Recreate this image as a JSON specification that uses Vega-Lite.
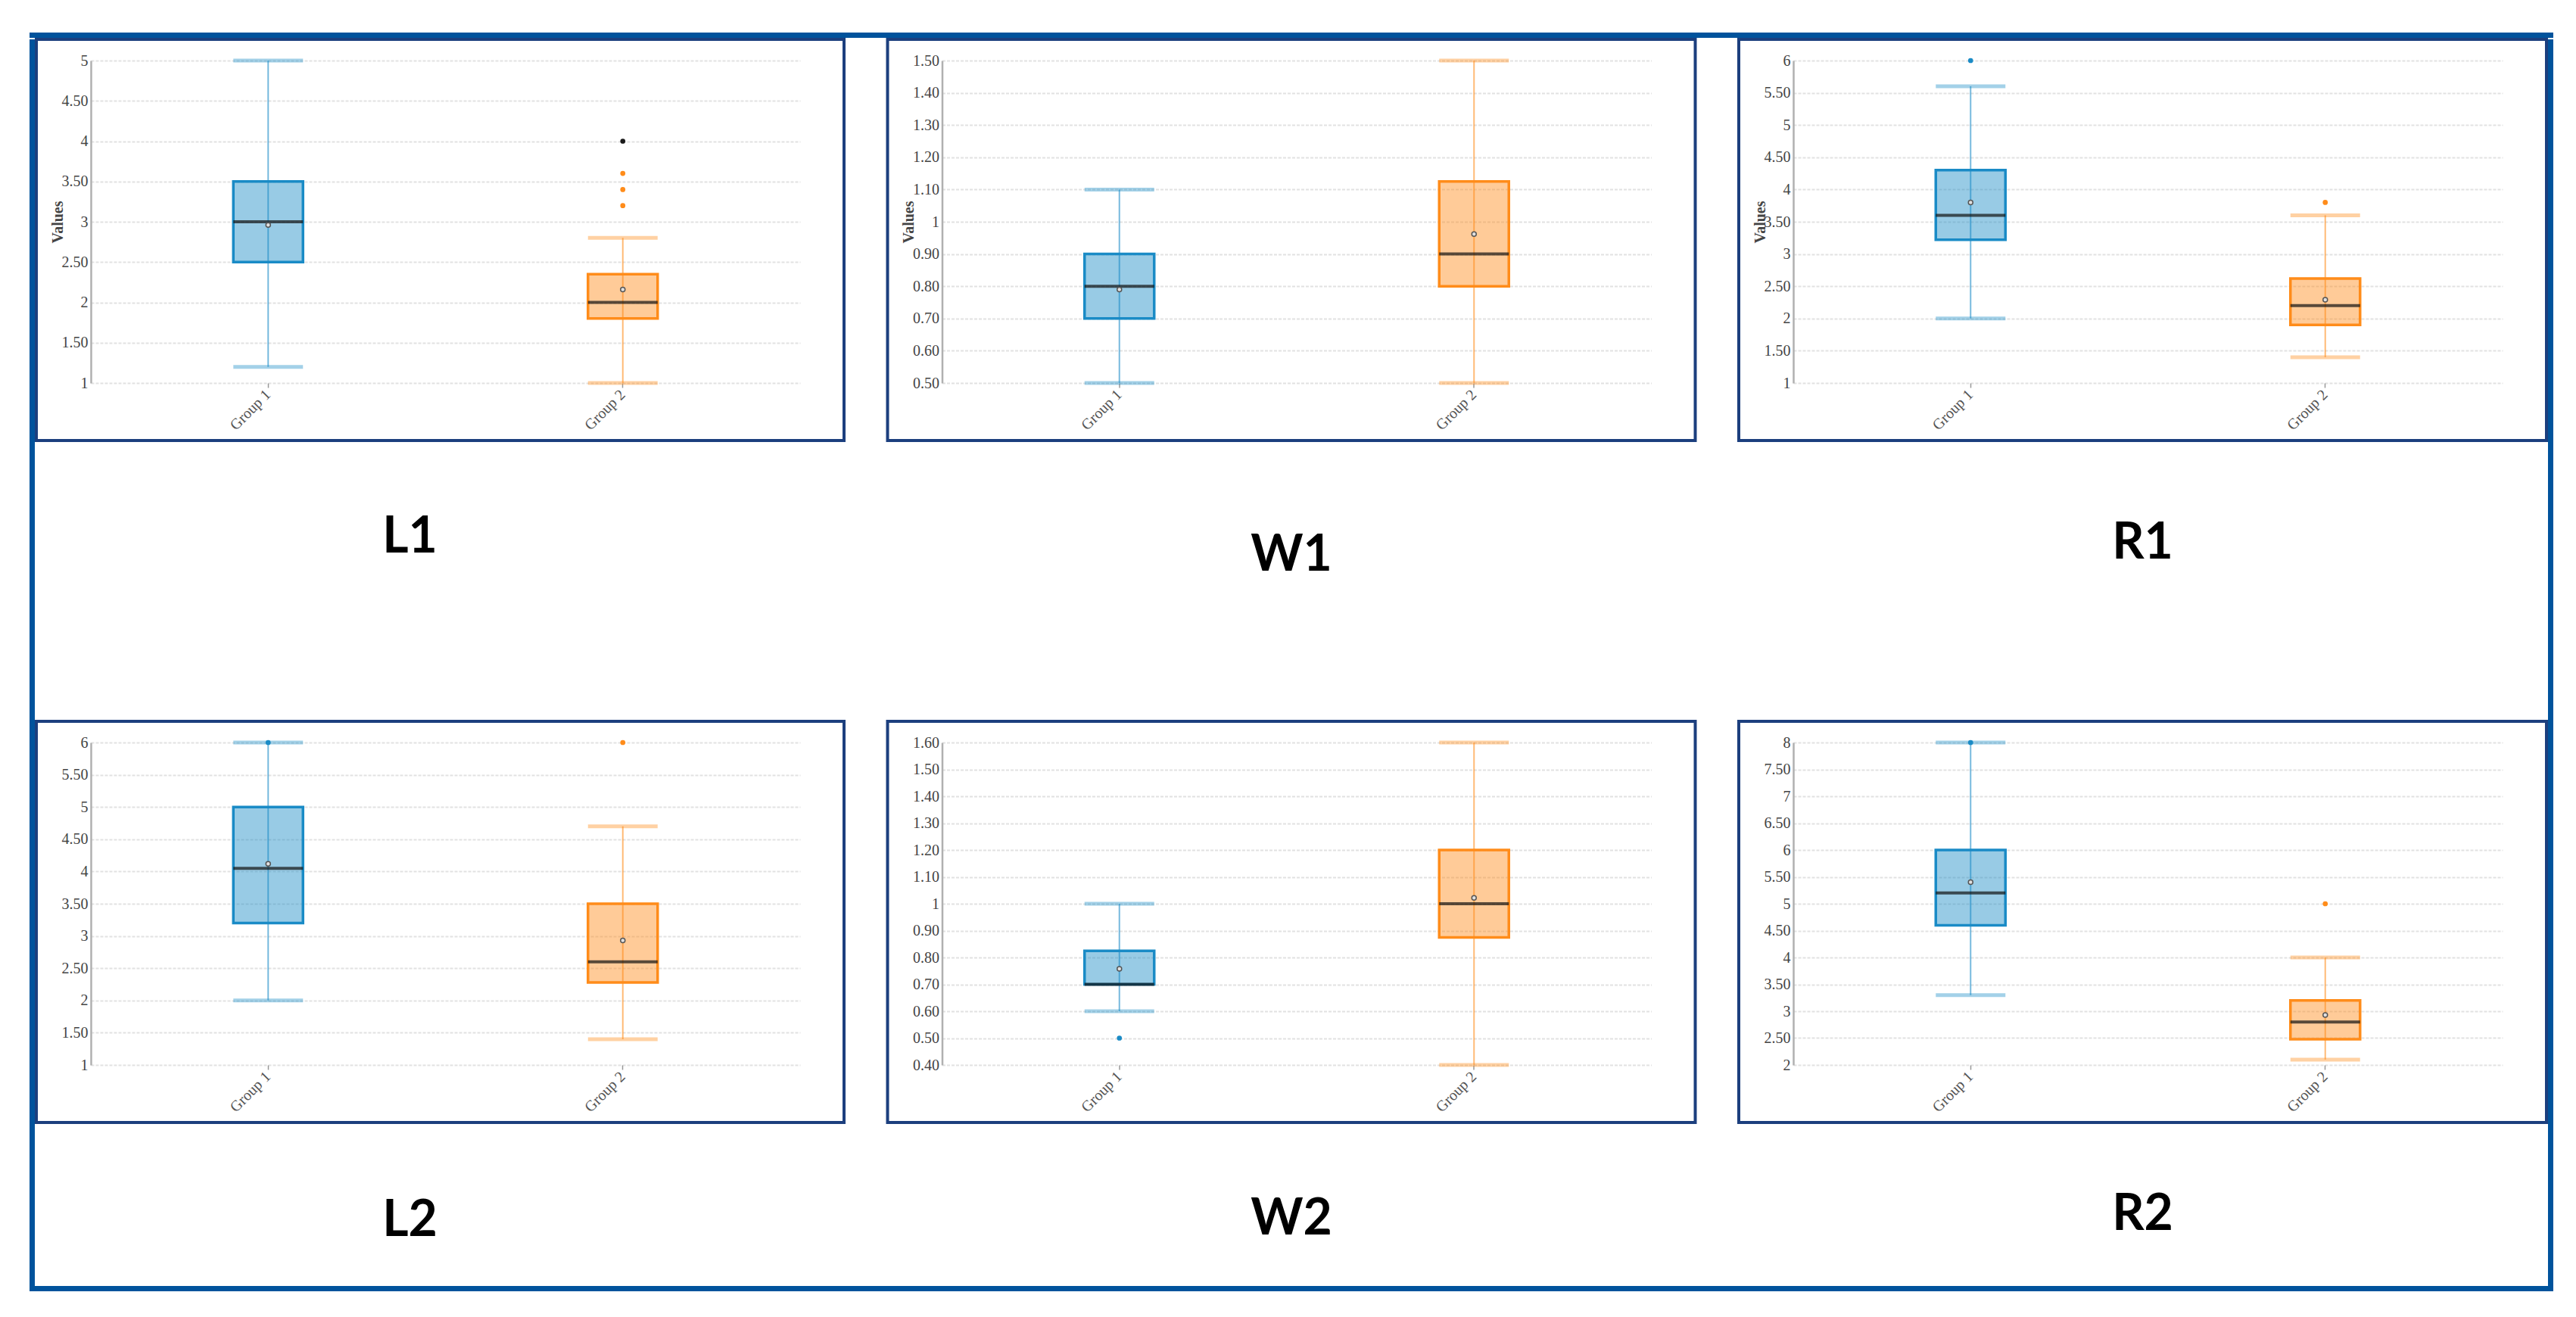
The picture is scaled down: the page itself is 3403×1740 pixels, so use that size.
{
  "$schema": "https://vega.github.io/schema/vega-lite/v6.json",
  "padding": {"left": 39, "top": 43, "right": 30, "bottom": 36},
  "background": "white",
  "datasets": {
    "stats": [
      {"panel": "L1", "group": "Group 1", "lower": 1.2, "q1": 2.5, "median": 3.0, "q3": 3.5, "upper": 5.0, "mean": 2.96},
      {"panel": "L1", "group": "Group 2", "lower": 1.0, "q1": 1.8, "median": 2.0, "q3": 2.35, "upper": 2.8, "mean": 2.16},
      {"panel": "W1", "group": "Group 1", "lower": 0.5, "q1": 0.7, "median": 0.8, "q3": 0.9, "upper": 1.1, "mean": 0.79},
      {"panel": "W1", "group": "Group 2", "lower": 0.5, "q1": 0.8, "median": 0.9, "q3": 1.125, "upper": 1.5, "mean": 0.962},
      {"panel": "R1", "group": "Group 1", "lower": 2.0, "q1": 3.22, "median": 3.6, "q3": 4.3, "upper": 5.6, "mean": 3.8},
      {"panel": "R1", "group": "Group 2", "lower": 1.4, "q1": 1.9, "median": 2.2, "q3": 2.62, "upper": 3.6, "mean": 2.29},
      {"panel": "L2", "group": "Group 1", "lower": 2.0, "q1": 3.2, "median": 4.05, "q3": 5.0, "upper": 6.0, "mean": 4.12},
      {"panel": "L2", "group": "Group 2", "lower": 1.4, "q1": 2.28, "median": 2.6, "q3": 3.5, "upper": 4.7, "mean": 2.93},
      {"panel": "W2", "group": "Group 1", "lower": 0.6, "q1": 0.7, "median": 0.7, "q3": 0.825, "upper": 1.0, "mean": 0.758},
      {"panel": "W2", "group": "Group 2", "lower": 0.4, "q1": 0.875, "median": 1.0, "q3": 1.2, "upper": 1.6, "mean": 1.022},
      {"panel": "R2", "group": "Group 1", "lower": 3.3, "q1": 4.6, "median": 5.2, "q3": 6.0, "upper": 8.0, "mean": 5.4},
      {"panel": "R2", "group": "Group 2", "lower": 2.1, "q1": 2.48, "median": 2.8, "q3": 3.2, "upper": 4.0, "mean": 2.93}
    ],
    "outliers": [
      {"panel": "L1", "group": "Group 2", "value": 4.0, "kind": "far"},
      {"panel": "L1", "group": "Group 2", "value": 3.6, "kind": "near"},
      {"panel": "L1", "group": "Group 2", "value": 3.4, "kind": "near"},
      {"panel": "L1", "group": "Group 2", "value": 3.2, "kind": "near"},
      {"panel": "R1", "group": "Group 1", "value": 6.0, "kind": "near"},
      {"panel": "R1", "group": "Group 2", "value": 3.8, "kind": "near"},
      {"panel": "L2", "group": "Group 1", "value": 6.0, "kind": "near"},
      {"panel": "L2", "group": "Group 2", "value": 6.0, "kind": "near"},
      {"panel": "W2", "group": "Group 1", "value": 0.5, "kind": "near"},
      {"panel": "R2", "group": "Group 1", "value": 8.0, "kind": "near"},
      {"panel": "R2", "group": "Group 2", "value": 5.0, "kind": "near"}
    ]
  },
  "config": {
    "view": {"stroke": "#1c3f7e", "strokeWidth": 4},
    "title": {"font": "Lato", "fontSize": 66, "fontWeight": "bold", "color": "#000000", "orient": "bottom", "anchor": "middle"},
    "axisX": {"domain": false, "grid": false, "tickSize": 6, "tickColor": "#999999", "tickWidth": 1.5, "labelAlign": "right", "labelBaseline": "middle", "labelPadding": 6, "labelFont": "Liberation Serif", "labelFontSize": 20, "labelColor": "#555555"},
    "axisY": {"ticks": false, "domainColor": "#b0b0b0", "domainWidth": 2.5, "gridColor": "#e2e2e2", "gridDash": [4, 2], "gridWidth": 2, "labelFont": "Liberation Serif", "labelFontSize": 20, "labelColor": "#444444", "labelPadding": 4, "titleFont": "Liberation Serif", "titleFontSize": 20, "titleFontWeight": "bold", "titleColor": "#444444"}
  },
  "spacing": 0,
  "vconcat": [
    {"width": 3334, "height": 7, "view": {"fill": "#00539c", "stroke": null}, "data": {"values": []}, "mark": "point"},
    {
      "spacing": 0,
      "hconcat": [
        {"width": 7, "height": 1647, "view": {"fill": "#00539c", "stroke": null}, "data": {"values": []}, "mark": "point"},
        {
          "columns": 3,
          "spacing": {"row": 371, "column": 57.5},
          "bounds": "flush",
          "concat": [
            {
              "width": 1067, "height": 530,
              "title": {"text": "L1", "offset": 96, "dx": -40},
              "data": {"name": "stats"},
              "transform": [{"filter": "datum.panel === 'L1'"}],
              "encoding": {"x": {"field": "group", "type": "nominal", "scale": {"domain": ["Group 1", "Group 2"], "range": [72, 1009], "paddingInner": 0, "paddingOuter": 0}, "axis": {"offset": -76, "title": null, "labelAngle": -45}}},
              "layer": [
                {"mark": {"type": "rule", "strokeWidth": 2, "opacity": 0.6}, "encoding": {"y": {"field": "lower", "type": "quantitative", "title": "Values", "scale": {"domain": [1, 5], "range": [454, 28], "zero": false, "nice": false}, "axis": {"offset": -72, "tickCount": 9, "grid": true, "labelExpr": "datum.value % 1 === 0 ? format(datum.value, 'd') : format(datum.value, '.2f')", "title": "Values", "titleX": -44, "titleY": 241, "titleAngle": -90, "titleBaseline": "middle", "titleAlign": "center"}}, "y2": {"field": "upper"}, "color": {"field": "group", "type": "nominal", "scale": {"domain": ["Group 1", "Group 2"], "range": ["#1a8bc6", "#ff8c1a"]}, "legend": null}}},
                {"mark": {"type": "tick", "size": 92, "thickness": 5, "opacity": 0.4}, "encoding": {"y": {"field": "lower", "type": "quantitative", "title": "Values", "scale": {"domain": [1, 5], "range": [454, 28], "zero": false, "nice": false}}, "color": {"field": "group", "type": "nominal", "scale": {"domain": ["Group 1", "Group 2"], "range": ["#1a8bc6", "#ff8c1a"]}, "legend": null}}},
                {"mark": {"type": "tick", "size": 92, "thickness": 5, "opacity": 0.4}, "encoding": {"y": {"field": "upper", "type": "quantitative", "title": "Values", "scale": {"domain": [1, 5], "range": [454, 28], "zero": false, "nice": false}}, "color": {"field": "group", "type": "nominal", "scale": {"domain": ["Group 1", "Group 2"], "range": ["#1a8bc6", "#ff8c1a"]}, "legend": null}}},
                {"mark": {"type": "bar", "width": 92, "fillOpacity": 0.45, "strokeWidth": 3.5}, "encoding": {"y": {"field": "q1", "type": "quantitative", "title": "Values", "scale": {"domain": [1, 5], "range": [454, 28], "zero": false, "nice": false}}, "y2": {"field": "q3"}, "color": {"field": "group", "type": "nominal", "scale": {"domain": ["Group 1", "Group 2"], "range": ["#1a8bc6", "#ff8c1a"]}, "legend": null}, "stroke": {"field": "group", "type": "nominal", "scale": {"domain": ["Group 1", "Group 2"], "range": ["#1a8bc6", "#ff8c1a"]}, "legend": null}}},
                {"mark": {"type": "tick", "size": 92, "thickness": 4, "color": "#111111"}, "encoding": {"y": {"field": "median", "type": "quantitative", "title": "Values", "scale": {"domain": [1, 5], "range": [454, 28], "zero": false, "nice": false}}}},
                {"mark": {"type": "point", "shape": "circle", "size": 36, "filled": true, "fill": "#e0e0e0", "stroke": "#555555", "strokeWidth": 1.5, "opacity": 1}, "encoding": {"y": {"field": "mean", "type": "quantitative", "title": "Values", "scale": {"domain": [1, 5], "range": [454, 28], "zero": false, "nice": false}}}},
                {"data": {"name": "outliers"}, "transform": [{"filter": "datum.panel === 'L1'"}], "mark": {"type": "circle", "size": 45, "opacity": 1}, "encoding": {"y": {"field": "value", "type": "quantitative", "title": "Values", "scale": {"domain": [1, 5], "range": [454, 28], "zero": false, "nice": false}}, "color": {"field": "group", "type": "nominal", "scale": {"domain": ["Group 1", "Group 2"], "range": ["#1a8bc6", "#ff8c1a"]}, "legend": null, "condition": {"test": "datum.kind === 'far'", "value": "#1a1a1a"}}}}
              ]
            },
            {
              "width": 1067, "height": 530,
              "title": {"text": "W1", "offset": 120},
              "data": {"name": "stats"},
              "transform": [{"filter": "datum.panel === 'W1'"}],
              "encoding": {"x": {"field": "group", "type": "nominal", "scale": {"domain": ["Group 1", "Group 2"], "range": [72, 1009], "paddingInner": 0, "paddingOuter": 0}, "axis": {"offset": -76, "title": null, "labelAngle": -45}}},
              "layer": [
                {"mark": {"type": "rule", "strokeWidth": 2, "opacity": 0.6}, "encoding": {"y": {"field": "lower", "type": "quantitative", "title": "Values", "scale": {"domain": [0.5, 1.5], "range": [454, 28], "zero": false, "nice": false}, "axis": {"offset": -72, "tickCount": 9, "grid": true, "labelExpr": "datum.value % 1 === 0 ? format(datum.value, 'd') : format(datum.value, '.2f')", "title": "Values", "titleX": -44, "titleY": 241, "titleAngle": -90, "titleBaseline": "middle", "titleAlign": "center"}}, "y2": {"field": "upper"}, "color": {"field": "group", "type": "nominal", "scale": {"domain": ["Group 1", "Group 2"], "range": ["#1a8bc6", "#ff8c1a"]}, "legend": null}}},
                {"mark": {"type": "tick", "size": 92, "thickness": 5, "opacity": 0.4}, "encoding": {"y": {"field": "lower", "type": "quantitative", "title": "Values", "scale": {"domain": [0.5, 1.5], "range": [454, 28], "zero": false, "nice": false}}, "color": {"field": "group", "type": "nominal", "scale": {"domain": ["Group 1", "Group 2"], "range": ["#1a8bc6", "#ff8c1a"]}, "legend": null}}},
                {"mark": {"type": "tick", "size": 92, "thickness": 5, "opacity": 0.4}, "encoding": {"y": {"field": "upper", "type": "quantitative", "title": "Values", "scale": {"domain": [0.5, 1.5], "range": [454, 28], "zero": false, "nice": false}}, "color": {"field": "group", "type": "nominal", "scale": {"domain": ["Group 1", "Group 2"], "range": ["#1a8bc6", "#ff8c1a"]}, "legend": null}}},
                {"mark": {"type": "bar", "width": 92, "fillOpacity": 0.45, "strokeWidth": 3.5}, "encoding": {"y": {"field": "q1", "type": "quantitative", "title": "Values", "scale": {"domain": [0.5, 1.5], "range": [454, 28], "zero": false, "nice": false}}, "y2": {"field": "q3"}, "color": {"field": "group", "type": "nominal", "scale": {"domain": ["Group 1", "Group 2"], "range": ["#1a8bc6", "#ff8c1a"]}, "legend": null}, "stroke": {"field": "group", "type": "nominal", "scale": {"domain": ["Group 1", "Group 2"], "range": ["#1a8bc6", "#ff8c1a"]}, "legend": null}}},
                {"mark": {"type": "tick", "size": 92, "thickness": 4, "color": "#111111"}, "encoding": {"y": {"field": "median", "type": "quantitative", "title": "Values", "scale": {"domain": [0.5, 1.5], "range": [454, 28], "zero": false, "nice": false}}}},
                {"mark": {"type": "point", "shape": "circle", "size": 36, "filled": true, "fill": "#e0e0e0", "stroke": "#555555", "strokeWidth": 1.5, "opacity": 1}, "encoding": {"y": {"field": "mean", "type": "quantitative", "title": "Values", "scale": {"domain": [0.5, 1.5], "range": [454, 28], "zero": false, "nice": false}}}}
              ]
            },
            {
              "width": 1067, "height": 530,
              "title": {"text": "R1", "offset": 104},
              "data": {"name": "stats"},
              "transform": [{"filter": "datum.panel === 'R1'"}],
              "encoding": {"x": {"field": "group", "type": "nominal", "scale": {"domain": ["Group 1", "Group 2"], "range": [72, 1009], "paddingInner": 0, "paddingOuter": 0}, "axis": {"offset": -76, "title": null, "labelAngle": -45}}},
              "layer": [
                {"mark": {"type": "rule", "strokeWidth": 2, "opacity": 0.6}, "encoding": {"y": {"field": "lower", "type": "quantitative", "title": "Values", "scale": {"domain": [1, 6], "range": [454, 28], "zero": false, "nice": false}, "axis": {"offset": -72, "tickCount": 9, "grid": true, "labelExpr": "datum.value % 1 === 0 ? format(datum.value, 'd') : format(datum.value, '.2f')", "title": "Values", "titleX": -44, "titleY": 241, "titleAngle": -90, "titleBaseline": "middle", "titleAlign": "center"}}, "y2": {"field": "upper"}, "color": {"field": "group", "type": "nominal", "scale": {"domain": ["Group 1", "Group 2"], "range": ["#1a8bc6", "#ff8c1a"]}, "legend": null}}},
                {"mark": {"type": "tick", "size": 92, "thickness": 5, "opacity": 0.4}, "encoding": {"y": {"field": "lower", "type": "quantitative", "title": "Values", "scale": {"domain": [1, 6], "range": [454, 28], "zero": false, "nice": false}}, "color": {"field": "group", "type": "nominal", "scale": {"domain": ["Group 1", "Group 2"], "range": ["#1a8bc6", "#ff8c1a"]}, "legend": null}}},
                {"mark": {"type": "tick", "size": 92, "thickness": 5, "opacity": 0.4}, "encoding": {"y": {"field": "upper", "type": "quantitative", "title": "Values", "scale": {"domain": [1, 6], "range": [454, 28], "zero": false, "nice": false}}, "color": {"field": "group", "type": "nominal", "scale": {"domain": ["Group 1", "Group 2"], "range": ["#1a8bc6", "#ff8c1a"]}, "legend": null}}},
                {"mark": {"type": "bar", "width": 92, "fillOpacity": 0.45, "strokeWidth": 3.5}, "encoding": {"y": {"field": "q1", "type": "quantitative", "title": "Values", "scale": {"domain": [1, 6], "range": [454, 28], "zero": false, "nice": false}}, "y2": {"field": "q3"}, "color": {"field": "group", "type": "nominal", "scale": {"domain": ["Group 1", "Group 2"], "range": ["#1a8bc6", "#ff8c1a"]}, "legend": null}, "stroke": {"field": "group", "type": "nominal", "scale": {"domain": ["Group 1", "Group 2"], "range": ["#1a8bc6", "#ff8c1a"]}, "legend": null}}},
                {"mark": {"type": "tick", "size": 92, "thickness": 4, "color": "#111111"}, "encoding": {"y": {"field": "median", "type": "quantitative", "title": "Values", "scale": {"domain": [1, 6], "range": [454, 28], "zero": false, "nice": false}}}},
                {"mark": {"type": "point", "shape": "circle", "size": 36, "filled": true, "fill": "#e0e0e0", "stroke": "#555555", "strokeWidth": 1.5, "opacity": 1}, "encoding": {"y": {"field": "mean", "type": "quantitative", "title": "Values", "scale": {"domain": [1, 6], "range": [454, 28], "zero": false, "nice": false}}}},
                {"data": {"name": "outliers"}, "transform": [{"filter": "datum.panel === 'R1'"}], "mark": {"type": "circle", "size": 45, "opacity": 1}, "encoding": {"y": {"field": "value", "type": "quantitative", "title": "Values", "scale": {"domain": [1, 6], "range": [454, 28], "zero": false, "nice": false}}, "color": {"field": "group", "type": "nominal", "scale": {"domain": ["Group 1", "Group 2"], "range": ["#1a8bc6", "#ff8c1a"]}, "legend": null}}}
              ]
            },
            {
              "width": 1067, "height": 530,
              "title": {"text": "L2", "offset": 98, "dx": -40},
              "data": {"name": "stats"},
              "transform": [{"filter": "datum.panel === 'L2'"}],
              "encoding": {"x": {"field": "group", "type": "nominal", "scale": {"domain": ["Group 1", "Group 2"], "range": [72, 1009], "paddingInner": 0, "paddingOuter": 0}, "axis": {"offset": -76, "title": null, "labelAngle": -45}}},
              "layer": [
                {"mark": {"type": "rule", "strokeWidth": 2, "opacity": 0.6}, "encoding": {"y": {"field": "lower", "type": "quantitative", "title": null, "scale": {"domain": [1, 6], "range": [454, 28], "zero": false, "nice": false}, "axis": {"offset": -72, "tickCount": 9, "grid": true, "labelExpr": "datum.value % 1 === 0 ? format(datum.value, 'd') : format(datum.value, '.2f')", "title": null}}, "y2": {"field": "upper"}, "color": {"field": "group", "type": "nominal", "scale": {"domain": ["Group 1", "Group 2"], "range": ["#1a8bc6", "#ff8c1a"]}, "legend": null}}},
                {"mark": {"type": "tick", "size": 92, "thickness": 5, "opacity": 0.4}, "encoding": {"y": {"field": "lower", "type": "quantitative", "title": null, "scale": {"domain": [1, 6], "range": [454, 28], "zero": false, "nice": false}}, "color": {"field": "group", "type": "nominal", "scale": {"domain": ["Group 1", "Group 2"], "range": ["#1a8bc6", "#ff8c1a"]}, "legend": null}}},
                {"mark": {"type": "tick", "size": 92, "thickness": 5, "opacity": 0.4}, "encoding": {"y": {"field": "upper", "type": "quantitative", "title": null, "scale": {"domain": [1, 6], "range": [454, 28], "zero": false, "nice": false}}, "color": {"field": "group", "type": "nominal", "scale": {"domain": ["Group 1", "Group 2"], "range": ["#1a8bc6", "#ff8c1a"]}, "legend": null}}},
                {"mark": {"type": "bar", "width": 92, "fillOpacity": 0.45, "strokeWidth": 3.5}, "encoding": {"y": {"field": "q1", "type": "quantitative", "title": null, "scale": {"domain": [1, 6], "range": [454, 28], "zero": false, "nice": false}}, "y2": {"field": "q3"}, "color": {"field": "group", "type": "nominal", "scale": {"domain": ["Group 1", "Group 2"], "range": ["#1a8bc6", "#ff8c1a"]}, "legend": null}, "stroke": {"field": "group", "type": "nominal", "scale": {"domain": ["Group 1", "Group 2"], "range": ["#1a8bc6", "#ff8c1a"]}, "legend": null}}},
                {"mark": {"type": "tick", "size": 92, "thickness": 4, "color": "#111111"}, "encoding": {"y": {"field": "median", "type": "quantitative", "title": null, "scale": {"domain": [1, 6], "range": [454, 28], "zero": false, "nice": false}}}},
                {"mark": {"type": "point", "shape": "circle", "size": 36, "filled": true, "fill": "#e0e0e0", "stroke": "#555555", "strokeWidth": 1.5, "opacity": 1}, "encoding": {"y": {"field": "mean", "type": "quantitative", "title": null, "scale": {"domain": [1, 6], "range": [454, 28], "zero": false, "nice": false}}}},
                {"data": {"name": "outliers"}, "transform": [{"filter": "datum.panel === 'L2'"}], "mark": {"type": "circle", "size": 45, "opacity": 1}, "encoding": {"y": {"field": "value", "type": "quantitative", "title": null, "scale": {"domain": [1, 6], "range": [454, 28], "zero": false, "nice": false}}, "color": {"field": "group", "type": "nominal", "scale": {"domain": ["Group 1", "Group 2"], "range": ["#1a8bc6", "#ff8c1a"]}, "legend": null}}}
              ]
            },
            {
              "width": 1067, "height": 530,
              "title": {"text": "W2", "offset": 96},
              "data": {"name": "stats"},
              "transform": [{"filter": "datum.panel === 'W2'"}],
              "encoding": {"x": {"field": "group", "type": "nominal", "scale": {"domain": ["Group 1", "Group 2"], "range": [72, 1009], "paddingInner": 0, "paddingOuter": 0}, "axis": {"offset": -76, "title": null, "labelAngle": -45}}},
              "layer": [
                {"mark": {"type": "rule", "strokeWidth": 2, "opacity": 0.6}, "encoding": {"y": {"field": "lower", "type": "quantitative", "title": null, "scale": {"domain": [0.4, 1.6], "range": [454, 28], "zero": false, "nice": false}, "axis": {"offset": -72, "tickCount": 9, "grid": true, "labelExpr": "datum.value % 1 === 0 ? format(datum.value, 'd') : format(datum.value, '.2f')", "title": null}}, "y2": {"field": "upper"}, "color": {"field": "group", "type": "nominal", "scale": {"domain": ["Group 1", "Group 2"], "range": ["#1a8bc6", "#ff8c1a"]}, "legend": null}}},
                {"mark": {"type": "tick", "size": 92, "thickness": 5, "opacity": 0.4}, "encoding": {"y": {"field": "lower", "type": "quantitative", "title": null, "scale": {"domain": [0.4, 1.6], "range": [454, 28], "zero": false, "nice": false}}, "color": {"field": "group", "type": "nominal", "scale": {"domain": ["Group 1", "Group 2"], "range": ["#1a8bc6", "#ff8c1a"]}, "legend": null}}},
                {"mark": {"type": "tick", "size": 92, "thickness": 5, "opacity": 0.4}, "encoding": {"y": {"field": "upper", "type": "quantitative", "title": null, "scale": {"domain": [0.4, 1.6], "range": [454, 28], "zero": false, "nice": false}}, "color": {"field": "group", "type": "nominal", "scale": {"domain": ["Group 1", "Group 2"], "range": ["#1a8bc6", "#ff8c1a"]}, "legend": null}}},
                {"mark": {"type": "bar", "width": 92, "fillOpacity": 0.45, "strokeWidth": 3.5}, "encoding": {"y": {"field": "q1", "type": "quantitative", "title": null, "scale": {"domain": [0.4, 1.6], "range": [454, 28], "zero": false, "nice": false}}, "y2": {"field": "q3"}, "color": {"field": "group", "type": "nominal", "scale": {"domain": ["Group 1", "Group 2"], "range": ["#1a8bc6", "#ff8c1a"]}, "legend": null}, "stroke": {"field": "group", "type": "nominal", "scale": {"domain": ["Group 1", "Group 2"], "range": ["#1a8bc6", "#ff8c1a"]}, "legend": null}}},
                {"mark": {"type": "tick", "size": 92, "thickness": 4, "color": "#111111"}, "encoding": {"y": {"field": "median", "type": "quantitative", "title": null, "scale": {"domain": [0.4, 1.6], "range": [454, 28], "zero": false, "nice": false}}}},
                {"mark": {"type": "point", "shape": "circle", "size": 36, "filled": true, "fill": "#e0e0e0", "stroke": "#555555", "strokeWidth": 1.5, "opacity": 1}, "encoding": {"y": {"field": "mean", "type": "quantitative", "title": null, "scale": {"domain": [0.4, 1.6], "range": [454, 28], "zero": false, "nice": false}}}},
                {"data": {"name": "outliers"}, "transform": [{"filter": "datum.panel === 'W2'"}], "mark": {"type": "circle", "size": 45, "opacity": 1}, "encoding": {"y": {"field": "value", "type": "quantitative", "title": null, "scale": {"domain": [0.4, 1.6], "range": [454, 28], "zero": false, "nice": false}}, "color": {"field": "group", "type": "nominal", "scale": {"domain": ["Group 1", "Group 2"], "range": ["#1a8bc6", "#ff8c1a"]}, "legend": null}}}
              ]
            },
            {
              "width": 1067, "height": 530,
              "title": {"text": "R2", "offset": 90},
              "data": {"name": "stats"},
              "transform": [{"filter": "datum.panel === 'R2'"}],
              "encoding": {"x": {"field": "group", "type": "nominal", "scale": {"domain": ["Group 1", "Group 2"], "range": [72, 1009], "paddingInner": 0, "paddingOuter": 0}, "axis": {"offset": -76, "title": null, "labelAngle": -45}}},
              "layer": [
                {"mark": {"type": "rule", "strokeWidth": 2, "opacity": 0.6}, "encoding": {"y": {"field": "lower", "type": "quantitative", "title": null, "scale": {"domain": [2, 8], "range": [454, 28], "zero": false, "nice": false}, "axis": {"offset": -72, "tickCount": 9, "grid": true, "labelExpr": "datum.value % 1 === 0 ? format(datum.value, 'd') : format(datum.value, '.2f')", "title": null}}, "y2": {"field": "upper"}, "color": {"field": "group", "type": "nominal", "scale": {"domain": ["Group 1", "Group 2"], "range": ["#1a8bc6", "#ff8c1a"]}, "legend": null}}},
                {"mark": {"type": "tick", "size": 92, "thickness": 5, "opacity": 0.4}, "encoding": {"y": {"field": "lower", "type": "quantitative", "title": null, "scale": {"domain": [2, 8], "range": [454, 28], "zero": false, "nice": false}}, "color": {"field": "group", "type": "nominal", "scale": {"domain": ["Group 1", "Group 2"], "range": ["#1a8bc6", "#ff8c1a"]}, "legend": null}}},
                {"mark": {"type": "tick", "size": 92, "thickness": 5, "opacity": 0.4}, "encoding": {"y": {"field": "upper", "type": "quantitative", "title": null, "scale": {"domain": [2, 8], "range": [454, 28], "zero": false, "nice": false}}, "color": {"field": "group", "type": "nominal", "scale": {"domain": ["Group 1", "Group 2"], "range": ["#1a8bc6", "#ff8c1a"]}, "legend": null}}},
                {"mark": {"type": "bar", "width": 92, "fillOpacity": 0.45, "strokeWidth": 3.5}, "encoding": {"y": {"field": "q1", "type": "quantitative", "title": null, "scale": {"domain": [2, 8], "range": [454, 28], "zero": false, "nice": false}}, "y2": {"field": "q3"}, "color": {"field": "group", "type": "nominal", "scale": {"domain": ["Group 1", "Group 2"], "range": ["#1a8bc6", "#ff8c1a"]}, "legend": null}, "stroke": {"field": "group", "type": "nominal", "scale": {"domain": ["Group 1", "Group 2"], "range": ["#1a8bc6", "#ff8c1a"]}, "legend": null}}},
                {"mark": {"type": "tick", "size": 92, "thickness": 4, "color": "#111111"}, "encoding": {"y": {"field": "median", "type": "quantitative", "title": null, "scale": {"domain": [2, 8], "range": [454, 28], "zero": false, "nice": false}}}},
                {"mark": {"type": "point", "shape": "circle", "size": 36, "filled": true, "fill": "#e0e0e0", "stroke": "#555555", "strokeWidth": 1.5, "opacity": 1}, "encoding": {"y": {"field": "mean", "type": "quantitative", "title": null, "scale": {"domain": [2, 8], "range": [454, 28], "zero": false, "nice": false}}}},
                {"data": {"name": "outliers"}, "transform": [{"filter": "datum.panel === 'R2'"}], "mark": {"type": "circle", "size": 45, "opacity": 1}, "encoding": {"y": {"field": "value", "type": "quantitative", "title": null, "scale": {"domain": [2, 8], "range": [454, 28], "zero": false, "nice": false}}, "color": {"field": "group", "type": "nominal", "scale": {"domain": ["Group 1", "Group 2"], "range": ["#1a8bc6", "#ff8c1a"]}, "legend": null}}}
              ]
            }
          ]
        },
        {"width": 7, "height": 1647, "view": {"fill": "#00539c", "stroke": null}, "data": {"values": []}, "mark": "point"}
      ]
    },
    {"width": 3334, "height": 7, "view": {"fill": "#00539c", "stroke": null}, "data": {"values": []}, "mark": "point"}
  ]
}
